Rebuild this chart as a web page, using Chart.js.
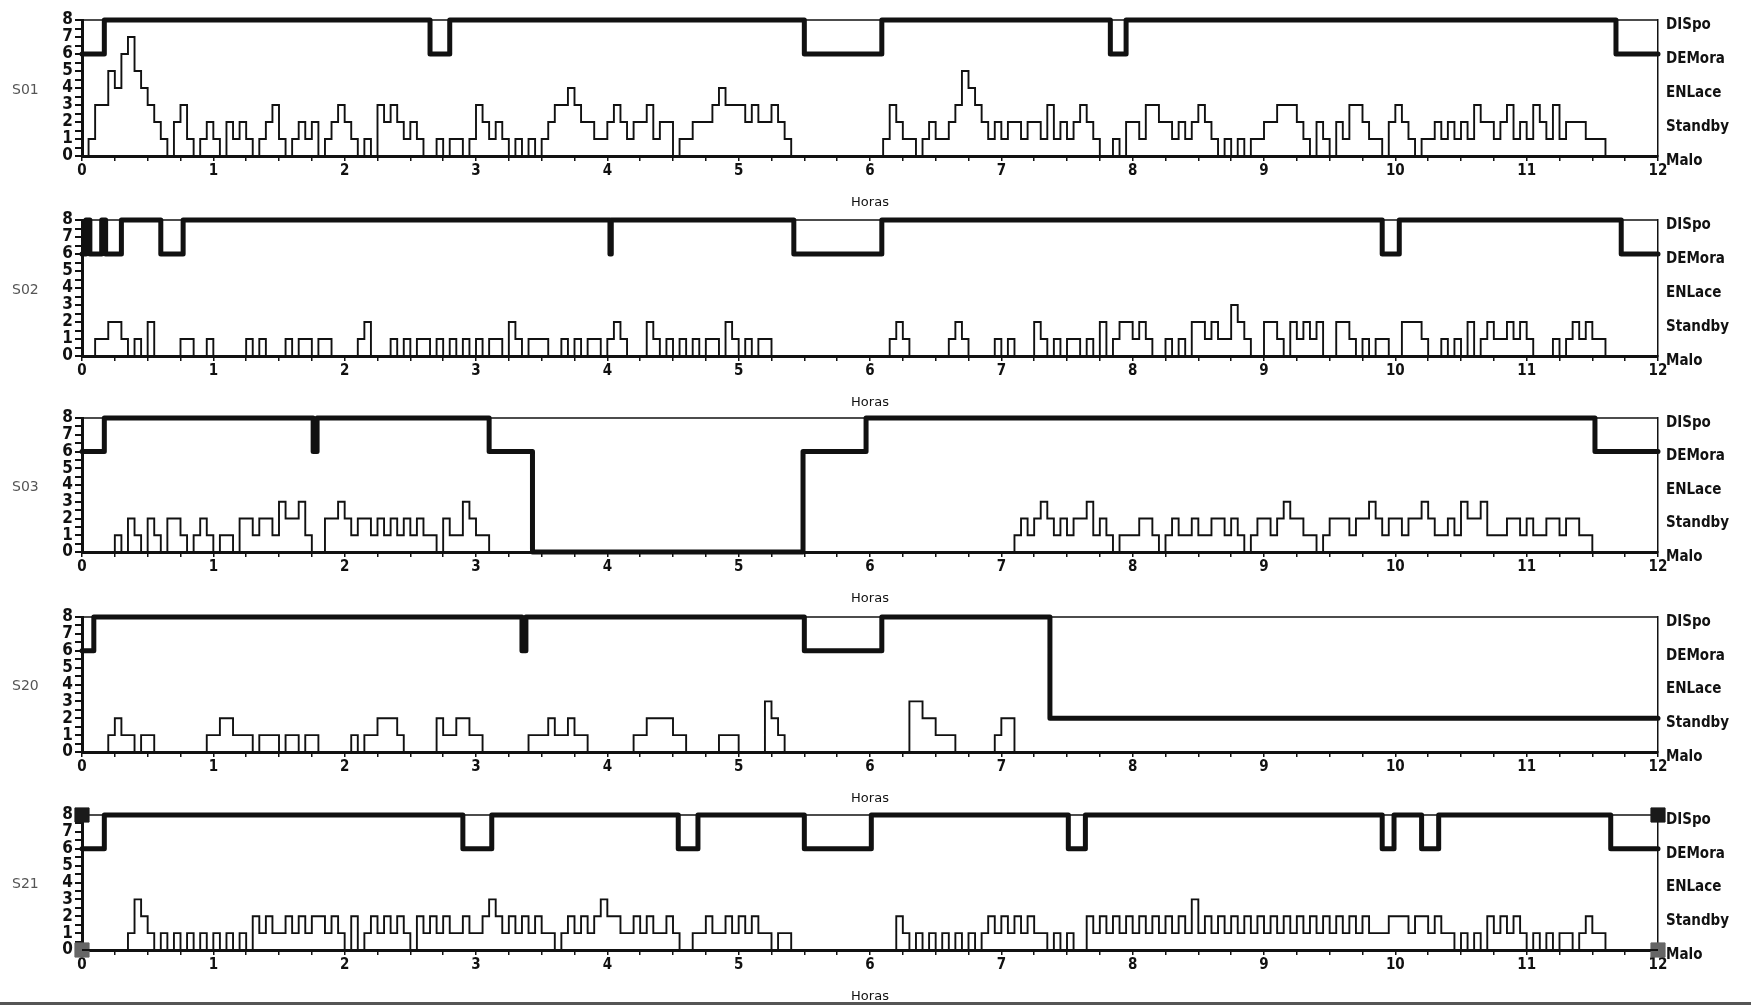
<!DOCTYPE html>
<html>
<head>
<meta charset="utf-8">
<title>Estados por hora</title>
<script src="https://cdn.jsdelivr.net/npm/chart.js@4.4.1/dist/chart.umd.min.js"></script>
<style>
  html, body { margin: 0; padding: 0; background: #fff; }
  #wrap { position: relative; width: 1751px; height: 1008px; overflow: hidden; background: #fff; }
  #wrap canvas { position: absolute; left: 0; }
  .lbl { position: absolute; left: 12px; font: 14px 'DejaVu Sans', sans-serif; color: #555; line-height: 16px; margin-top: -8px; }
  #edge { position: absolute; left: 0; top: 1002px; width: 1751px; height: 3px; background: #555; }
</style>
</head>
<body>
<div id="wrap"><div id="edge"></div></div>
<script>
(function() {
  'use strict';

  // ---- data -------------------------------------------------------------
  var HOURS = 12;
  var BIN = 0.05;                      // activity sampled every 0.05 h
  var LEVEL_LABELS = ['Malo', 'Standby', 'ENLace', 'DEMora', 'DISpo'];  // at 0,2,4,6,8
  var SERIES = ['S01', 'S02', 'S03', 'S20', 'S21'];

  // state line: change times (h) and level held from that time on
  var s01StateT = [0, 0.17, 2.65, 2.8, 5.5, 6.09, 7.83, 7.95, 11.68, 12];
  var s01StateV = [6, 8, 6, 8, 6, 8, 6, 8, 6, 6];
  var s02StateT = [0, 0.03, 0.06, 0.15, 0.18, 0.3, 0.6, 0.77, 4.02, 4.03, 5.42, 6.09, 9.9, 10.03, 11.72, 12];
  var s02StateV = [6, 8, 6, 8, 6, 8, 6, 8, 6, 8, 6, 8, 6, 8, 6, 6];
  var s03StateT = [0, 0.17, 1.76, 1.79, 3.1, 3.43, 5.49, 5.97, 11.52, 12];
  var s03StateV = [6, 8, 6, 8, 6, 0, 6, 8, 6, 6];
  var s20StateT = [0, 0.09, 3.35, 3.38, 5.5, 6.09, 7.37, 12];
  var s20StateV = [6, 8, 6, 8, 6, 8, 2, 2];
  var s21StateT = [0, 0.17, 2.9, 3.12, 4.54, 4.69, 5.5, 6.01, 7.51, 7.64, 9.9, 9.99, 10.2, 10.33, 11.64, 12];
  var s21StateV = [6, 8, 6, 8, 6, 8, 6, 8, 6, 8, 6, 8, 6, 8, 6, 6];

  // activity levels, one row per hour (20 bins of 0.05 h)
  var s01Act = [
    0,1,3,3,5,4,6,7,5,4,3,2,1,0,2,3,1,0,1,2,
    1,0,2,1,2,1,0,1,2,3,1,0,1,2,1,2,0,1,2,3,
    2,1,0,1,0,3,2,3,2,1,2,1,0,0,1,0,1,1,0,1,
    3,2,1,2,1,0,1,0,1,0,1,2,3,3,4,3,2,2,1,1,
    2,3,2,1,2,2,3,1,2,2,0,1,1,2,2,2,3,4,3,3,
    3,2,3,2,2,3,2,1,0,0,0,0,0,0,0,0,0,0,0,0,
    0,0,1,3,2,1,1,0,1,2,1,1,2,3,5,4,3,2,1,2,
    1,2,2,1,2,2,1,3,1,2,1,2,3,2,1,0,0,1,0,2,
    2,1,3,3,2,2,1,2,1,2,3,2,1,0,1,0,1,0,1,1,
    2,2,3,3,3,2,1,0,2,1,0,2,1,3,3,2,1,1,0,2,
    3,2,1,0,1,1,2,1,2,1,2,1,3,2,2,1,2,3,1,2,
    1,3,2,1,3,1,2,2,2,1,1,1,0,0,0,0,0,0,0,0
  ];
  var s02Act = [
    0,0,1,1,2,2,1,0,1,0,2,0,0,0,0,1,1,0,0,1,
    0,0,0,0,0,1,0,1,0,0,0,1,0,1,1,0,1,1,0,0,
    0,0,1,2,0,0,0,1,0,1,0,1,1,0,1,0,1,0,1,0,
    1,0,1,1,0,2,1,0,1,1,1,0,0,1,0,1,0,1,1,0,
    1,2,1,0,0,0,2,1,0,1,0,1,0,1,0,1,1,0,2,1,
    0,1,0,1,1,0,0,0,0,0,0,0,0,0,0,0,0,0,0,0,
    0,0,0,1,2,1,0,0,0,0,0,0,1,2,1,0,0,0,0,1,
    0,1,0,0,0,2,1,0,1,0,1,1,0,1,0,2,0,1,2,2,
    1,2,1,0,0,1,0,1,0,2,2,1,2,1,1,3,2,1,0,0,
    2,2,1,0,2,1,2,1,2,0,0,2,2,1,0,1,0,1,1,0,
    0,2,2,2,1,0,0,1,0,1,0,2,0,1,2,1,1,2,1,2,
    1,0,0,0,1,0,1,2,1,2,1,1,0,0,0,0,0,0,0,0
  ];
  var s03Act = [
    0,0,0,0,0,1,0,2,1,0,2,1,0,2,2,1,0,1,2,1,
    0,1,1,0,2,2,1,2,2,1,3,2,2,3,1,0,0,2,2,3,
    2,1,2,2,1,2,1,2,1,2,1,2,1,1,0,2,1,1,3,2,
    1,1,0,0,0,0,0,0,0,0,0,0,0,0,0,0,0,0,0,0,
    0,0,0,0,0,0,0,0,0,0,0,0,0,0,0,0,0,0,0,0,
    0,0,0,0,0,0,0,0,0,0,0,0,0,0,0,0,0,0,0,0,
    0,0,0,0,0,0,0,0,0,0,0,0,0,0,0,0,0,0,0,0,
    0,0,1,2,1,2,3,2,1,2,1,2,2,3,1,2,1,0,1,1,
    1,2,2,1,0,1,2,1,1,2,1,1,2,2,1,2,1,0,1,2,
    2,1,2,3,2,2,1,1,0,1,2,2,2,1,2,2,3,2,1,2,
    2,1,2,2,3,2,1,1,2,1,3,2,2,3,1,1,1,2,2,1,
    2,1,1,2,2,1,2,2,1,1,0,0,0,0,0,0,0,0,0,0
  ];
  var s20Act = [
    0,0,0,0,1,2,1,1,0,1,1,0,0,0,0,0,0,0,0,1,
    1,2,2,1,1,1,0,1,1,1,0,1,1,0,1,1,0,0,0,0,
    0,1,0,1,1,2,2,2,1,0,0,0,0,0,2,1,1,2,2,1,
    1,0,0,0,0,0,0,0,1,1,1,2,1,1,2,1,1,0,0,0,
    0,0,0,0,1,1,2,2,2,2,1,1,0,0,0,0,0,1,1,1,
    0,0,0,0,3,2,1,0,0,0,0,0,0,0,0,0,0,0,0,0,
    0,0,0,0,0,0,3,3,2,2,1,1,1,0,0,0,0,0,0,1,
    2,2,0,0,0,0,0,0,0,0,0,0,0,0,0,0,0,0,0,0,
    0,0,0,0,0,0,0,0,0,0,0,0,0,0,0,0,0,0,0,0,
    0,0,0,0,0,0,0,0,0,0,0,0,0,0,0,0,0,0,0,0,
    0,0,0,0,0,0,0,0,0,0,0,0,0,0,0,0,0,0,0,0,
    0,0,0,0,0,0,0,0,0,0,0,0,0,0,0,0,0,0,0,0
  ];
  var s21Act = [
    0,0,0,0,0,0,0,1,3,2,1,0,1,0,1,0,1,0,1,0,
    1,0,1,0,1,0,2,1,2,1,1,2,1,2,1,2,2,1,2,1,
    0,2,0,1,2,1,2,1,2,1,0,2,1,2,1,2,1,1,2,1,
    1,2,3,2,1,2,1,2,1,2,1,1,0,1,2,1,2,1,2,3,
    2,2,1,1,2,1,2,1,1,2,1,0,0,1,1,2,1,1,2,1,
    2,1,2,1,1,0,1,1,0,0,0,0,0,0,0,0,0,0,0,0,
    0,0,0,0,2,1,0,1,0,1,0,1,0,1,0,1,0,1,2,1,
    2,1,2,1,2,1,1,0,1,0,1,0,0,2,1,2,1,2,1,2,
    1,2,1,2,1,2,1,2,1,3,1,2,1,2,1,2,1,2,1,2,
    1,2,1,2,1,2,1,2,1,2,1,2,1,2,1,2,1,1,1,2,
    2,2,1,2,2,1,2,1,1,0,1,0,1,0,2,1,2,1,2,1,
    0,1,0,1,0,1,1,0,1,2,1,1,0,0,0,0,0,0,0,0
  ];
  // corner markers drawn on the S21 panel
  var s21Markers = [{ x: 0, y: 8 }, { x: 0, y: 0 }, { x: 12, y: 8 }, { x: 12, y: 0 }];

  var STATE_T = [s01StateT, s02StateT, s03StateT, s20StateT, s21StateT];
  var STATE_V = [s01StateV, s02StateV, s03StateV, s20StateV, s21StateV];
  var ACT = [s01Act, s02Act, s03Act, s20Act, s21Act];

  // ---- layout -----------------------------------------------------------
  var INK = '#111';
  var FONT_AX = "'Liberation Sans Narrow', 'DejaVu Sans Condensed', 'Liberation Sans', sans-serif";
  var FONT_SM = "'DejaVu Sans', sans-serif";
  var AREA_TOP = [15, 215, 413, 612, 810];
  var AREA_H = [141, 141, 139, 140, 140];
  var PAD_TOP = 12;
  var X_AXIS_H = 56;
  var LEFT_W = 82;
  var RIGHT_W = 93;

  var frameTop = {
    id: 'frameTop',
    beforeDatasetsDraw: function(chart) {
      var a = chart.chartArea, c = chart.ctx;
      c.save();
      c.strokeStyle = INK;
      c.lineWidth = 1.5;
      c.beginPath();
      c.moveTo(a.left, a.top);
      c.lineTo(a.right, a.top);
      c.stroke();
      c.restore();
    }
  };

  function stepPoints(ts, vs) {
    return ts.map(function(t, i) { return { x: t, y: vs[i] }; });
  }

  function binPoints(arr) {
    var pts = arr.map(function(v, i) { return { x: +(i * BIN).toFixed(2), y: v }; });
    pts.push({ x: HOURS, y: arr[arr.length - 1] });
    return pts;
  }

  var wrap = document.getElementById('wrap');

  SERIES.forEach(function(name, i) {
    var cv = document.createElement('canvas');
    var h = PAD_TOP + AREA_H[i] + X_AXIS_H;
    cv.width = 1751;
    cv.height = h;
    cv.style.top = (AREA_TOP[i] - PAD_TOP) + 'px';
    cv.style.width = '1751px';
    cv.style.height = h + 'px';
    wrap.appendChild(cv);

    var lbl = document.createElement('div');
    lbl.className = 'lbl';
    lbl.textContent = name;
    lbl.style.top = (AREA_TOP[i] + AREA_H[i] / 2 + 3) + 'px';
    wrap.appendChild(lbl);

    var datasets = [
      {
        label: name + ' estado',
        data: stepPoints(STATE_T[i], STATE_V[i]),
        stepped: true,
        borderColor: INK,
        borderWidth: 5,
        borderJoinStyle: 'round',
        borderCapStyle: 'round',
        pointRadius: 0,
        clip: false,
        yAxisID: 'y'
      },
      {
        label: name + ' actividad',
        data: binPoints(ACT[i]),
        stepped: true,
        borderColor: INK,
        borderWidth: 1.9,
        pointRadius: 0,
        clip: false,
        yAxisID: 'y'
      }
    ];
    if (name === 'S21') {
      datasets.push({
        label: 'marcas',
        data: s21Markers,
        showLine: false,
        pointStyle: 'rect',
        pointRadius: 10,
        backgroundColor: ['#1a1a1a', '#666', '#1a1a1a', '#666'],
        borderColor: ['#1a1a1a', '#666', '#1a1a1a', '#666'],
        clip: false,
        yAxisID: 'y'
      });
    }

    new Chart(cv, {
      type: 'line',
      data: { datasets: datasets },
      plugins: [frameTop],
      options: {
        responsive: false,
        animation: false,
        devicePixelRatio: 1,
        layout: { padding: { top: PAD_TOP, left: 0, right: 0, bottom: 0 } },
        plugins: { legend: { display: false }, tooltip: { enabled: false } },
        scales: {
          x: {
            type: 'linear', min: 0, max: HOURS,
            ticks: {
              stepSize: 0.25, autoSkip: false, maxRotation: 0, padding: 1,
              color: INK, font: { family: FONT_AX, size: 15, weight: 'bold' },
              callback: function(v) { return Number.isInteger(v) ? String(v) : ''; }
            },
            grid: { drawOnChartArea: false, drawTicks: true, tickLength: 5, color: INK, lineWidth: 1.5 },
            border: { color: INK, width: 3 },
            title: { display: true, text: 'Horas', color: INK, font: { family: FONT_SM, size: 13 }, padding: { top: 0, bottom: 2 } },
            afterFit: function(s) { s.height = X_AXIS_H; }
          },
          y: {
            position: 'left', min: 0, max: 8,
            ticks: {
              stepSize: 0.5, autoSkip: false, padding: 2,
              color: INK, font: { family: FONT_AX, size: 17, weight: 'bold' },
              callback: function(v) { return Number.isInteger(v) ? String(v) : ''; }
            },
            grid: { drawOnChartArea: false, drawTicks: true, tickLength: 7, color: INK, lineWidth: 2 },
            border: { color: INK, width: 3 },
            afterFit: function(s) { s.width = LEFT_W; }
          },
          y2: {
            position: 'right', min: 0, max: 8,
            ticks: {
              stepSize: 2, autoSkip: false, padding: 8, labelOffset: 5,
              color: INK, font: { family: FONT_AX, size: 15, weight: 'bold' },
              callback: function(v) { return LEVEL_LABELS[v / 2]; }
            },
            grid: { drawOnChartArea: false, drawTicks: false },
            border: { color: INK, width: 1.5 },
            afterFit: function(s) { s.width = RIGHT_W; }
          }
        }
      }
    });
  });
})();
</script>
</body>
</html>
